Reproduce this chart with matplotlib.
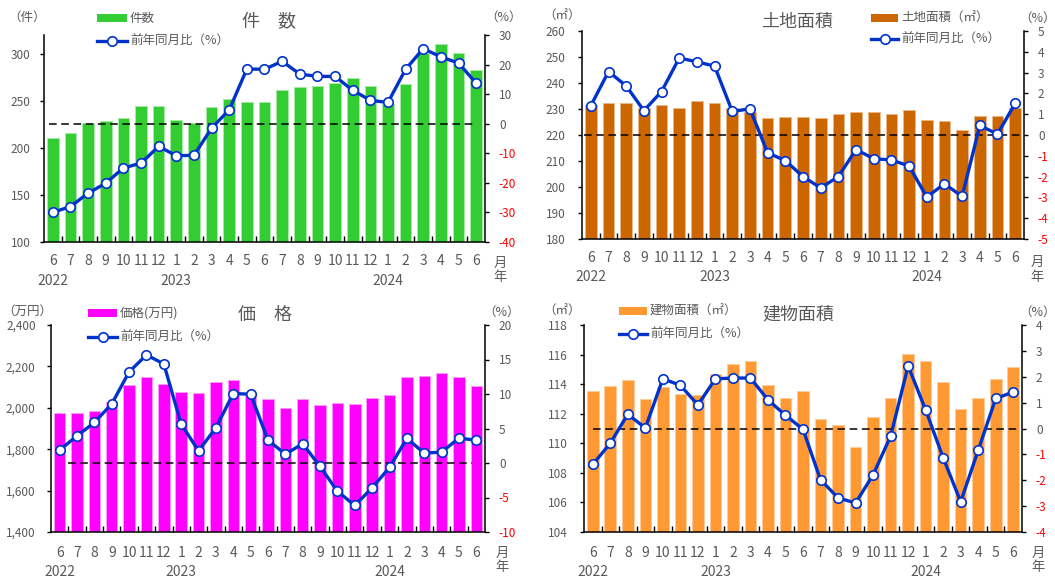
import numpy as np
import matplotlib
matplotlib.use('Agg')
import matplotlib.pyplot as plt
from matplotlib.patches import Rectangle
from matplotlib.lines import Line2D
import matplotlib.transforms as mtrans

plt.rcParams['font.family'] = ['Noto Sans CJK JP', 'DejaVu Sans']

W, H = 1055, 578
GRAY = '#595959'
LINE_C = '#0033CC'

months = ['6', '7', '8', '9', '10', '11', '12', '1', '2', '3', '4', '5', '6',
          '7', '8', '9', '10', '11', '12', '1', '2', '3', '4', '5', '6']
year_idx = [0, 7, 19]
year_lab = ['2022', '2023', '2024']

# 件数
count_vals = [211, 216, 227, 229, 232, 245, 245, 230, 226, 243, 252, 249, 249,
              262, 265, 266, 269, 274, 266, 247, 268, 301, 310, 301, 283]
count_yoy = [-30.0, -28.0, -23.5, -20.1, -15.0, -13.3, -7.7, -10.8, -10.7, -1.5, 4.7, 18.5, 18.4,
             21.1, 16.8, 16.0, 16.0, 11.3, 7.9, 7.2, 18.4, 25.4, 22.6, 20.5, 13.7]
# 土地面積
land_vals = [231.5, 232.4, 232.4, 230.3, 231.7, 230.4, 232.9, 232.4, 230.4, 228.9, 226.5, 227.1, 227.1,
             226.6, 227.9, 228.8, 229.0, 227.9, 229.6, 225.7, 225.2, 222.0, 227.4, 227.4, 230.4]
land_yoy = [1.41, 3.05, 2.36, 1.17, 2.09, 3.70, 3.52, 3.31, 1.13, 1.26, -0.86, -1.23, -2.0,
            -2.54, -2.0, -0.70, -1.14, -1.20, -1.49, -2.98, -2.35, -2.95, 0.46, 0.04, 1.52]
# 価格
price_vals = [1974, 1974, 1984, 2028, 2111, 2148, 2115, 2074, 2070, 2124, 2133, 2060, 2041,
              2000, 2041, 2014, 2025, 2017, 2045, 2062, 2148, 2156, 2170, 2151, 2107]
price_yoy = [1.87, 3.94, 5.87, 8.57, 13.2, 15.67, 14.35, 5.63, 1.77, 5.1, 10.07, 9.97, 3.31,
             1.29, 2.78, -0.5, -4.1, -6.15, -3.6, -0.64, 3.56, 1.43, 1.58, 3.6, 3.31]
# 建物面積
bldg_vals = [113.54, 113.88, 114.29, 112.98, 113.84, 113.34, 113.27, 114.71, 115.39, 115.57, 113.95, 113.03, 113.54,
             111.65, 111.27, 109.74, 111.79, 113.03, 116.06, 115.57, 114.13, 112.35, 113.03, 114.33, 115.14]
bldg_yoy = [-1.39, -0.57, 0.55, 0.02, 1.92, 1.67, 0.91, 1.92, 1.95, 1.95, 1.11, 0.51, -0.03,
            -1.98, -2.68, -2.88, -1.79, -0.30, 2.42, 0.72, -1.13, -2.83, -0.84, 1.16, 1.41]

fig = plt.figure(figsize=(W / 100, H / 100), dpi=100)


def fx(x):
    return x / W


def fy(y):
    return 1 - y / H


def panel(box, vals, yoy, color, edge, ylim, yticks, yfmt, ylim2, yticks2,
          title, title_xy, unit, unit_xy, pct_xy, leg_xy, leg_label, dash_span,
          month_y, year_y, yue_x, yue_y, lpad):
    l, r, t, b = box
    ax = fig.add_axes([fx(l), fy(b), fx(r - l), (b - t) / H])
    x = np.arange(len(vals))
    ax.bar(x, vals, width=0.66, color=color, edgecolor=edge, linewidth=0.7, zorder=2)
    ax.set_xlim(-0.5, len(vals) - 0.5)
    ax.set_ylim(*ylim)
    ax.set_yticks(yticks)
    ax.set_yticklabels([yfmt(v) for v in yticks])
    ax.tick_params(axis='y', direction='out', length=3, width=1, colors='black',
                   labelcolor=GRAY, labelsize=8.5, pad=lpad)
    ax.set_xticks([])
    ax.set_xticks(np.arange(0.5, len(vals) - 0.5, 1), minor=True)
    ax.tick_params(axis='x', which='minor', direction='in', length=4, width=1, color='black')
    for s in ['top', 'right']:
        ax.spines[s].set_visible(False)
    ax.spines['left'].set_linewidth(1.1)
    ax.spines['bottom'].set_linewidth(1.1)

    ax2 = ax.twinx()
    ax2.set_ylim(*ylim2)
    ax2.set_yticks(yticks2)
    ax2.set_yticklabels([f'{v:g}' for v in yticks2])
    ax2.tick_params(axis='y', direction='out', length=3, width=1, colors='black',
                    labelsize=8.5, pad=7)
    for lab, v in zip(ax2.get_yticklabels(), yticks2):
        lab.set_color('#FF0000' if v < 0 else GRAY)
    for s in ['top', 'left', 'bottom']:
        ax2.spines[s].set_visible(False)
    ax2.spines['right'].set_linewidth(1.1)
    ax2.axhline(0, xmin=dash_span[0], xmax=dash_span[1], color='black',
                linestyle=(0, (5, 3)), linewidth=1.1, zorder=3)
    ax2.plot(x, yoy, color=LINE_C, linewidth=2.4, marker='o', markersize=6.8,
             markerfacecolor='white', markeredgecolor=LINE_C, markeredgewidth=1.2, zorder=4)

    tr = mtrans.blended_transform_factory(ax.transData, fig.transFigure)
    for i, m in enumerate(months):
        ax.text(i, fy(month_y), m, transform=tr, ha='center', va='center',
                fontsize=10, color=GRAY)
    for i, yl in zip(year_idx, year_lab):
        ax.text(i, fy(year_y), yl, transform=tr, ha='center', va='center',
                fontsize=10, color=GRAY)
    fig.text(fx(yue_x), fy(yue_y[0]), '月', ha='center', va='center', fontsize=9.5, color=GRAY)
    fig.text(fx(yue_x), fy(yue_y[1]), '年', ha='center', va='center', fontsize=9.5, color=GRAY)

    fig.text(fx(title_xy[0]), fy(title_xy[1]), title, ha='center', va='center',
             fontsize=13, color=GRAY)
    fig.text(fx(unit_xy[0]), fy(unit_xy[1]), unit, ha='center', va='center',
             fontsize=9, color=GRAY)
    fig.text(fx(pct_xy[0]), fy(pct_xy[1]), '（%）', ha='center', va='center',
             fontsize=9, color=GRAY)

    # legend
    lx0, lx1, ly1, ly2 = leg_xy
    fig.add_artist(Rectangle((fx(lx0), fy(ly1 + 4)), fx(lx1 - lx0), 8 / H,
                             transform=fig.transFigure, facecolor=color, edgecolor='none'))
    fig.text(fx(lx1 + 3), fy(ly1), leg_label, ha='left', va='center', fontsize=9, color=GRAY)
    fig.add_artist(Line2D([fx(lx0), fx(lx1)], [fy(ly2), fy(ly2)], transform=fig.transFigure,
                          color=LINE_C, linewidth=2.4))
    fig.add_artist(Line2D([fx((lx0 + lx1) / 2)], [fy(ly2)], transform=fig.transFigure,
                          marker='o', markersize=6.8, markerfacecolor='white',
                          markeredgecolor=LINE_C, markeredgewidth=1.2, linestyle='none'))
    fig.text(fx(lx1 + 3), fy(ly2), '前年同月比（%）', ha='left', va='center', fontsize=9, color=GRAY)
    return ax, ax2


panel((44, 485, 35, 242), count_vals, count_yoy, '#33CC33', '#A6EBA6',
      (100, 320), [100, 150, 200, 250, 300], lambda v: f'{v:d}',
      (-40, 30), [-40, -30, -20, -10, 0, 10, 20, 30],
      '件　数', (269, 22), '（件）', (27, 17), (504, 17), (97, 127, 18, 41), '件数',
      (0.011, 0.973), 261, 281, 500, (263, 278), 6.5)

panel((582, 1024, 31, 239), land_vals, land_yoy, '#CC6600', '#EBB88A',
      (180, 260), list(range(180, 261, 10)), lambda v: f'{v:d}',
      (-5, 5), list(range(-5, 6)),
      '土地面積', (797, 22), '（㎡）', (562, 16), (1038, 18), (871, 898, 18, 39), '土地面積（㎡）',
      (0.005, 0.99), 258, 277, 1037, (262, 277), 9)

panel((51, 485, 325, 532), price_vals, price_yoy, '#FF00FF', '#FF99FF',
      (1400, 2400), list(range(1400, 2401, 200)), lambda v: f'{v:,}',
      (-10, 20), [-10, -5, 0, 5, 10, 15, 20],
      '価　格', (265, 315), '（万円）', (27, 311), (502, 312), (88, 117, 313, 337), '価格(万円)',
      (0.04, 0.97), 553, 572, 502, (553, 568), 8)

panel((584, 1022, 325, 532), bldg_vals, bldg_yoy, '#FF9933', '#FFCC99',
      (104, 118), list(range(104, 119, 2)), lambda v: f'{v:d}',
      (-4, 4), list(range(-4, 5)),
      '建物面積', (798, 314), '（㎡）', (562, 311), (1038, 312), (619, 647, 311, 334), '建物面積（㎡）',
      (0.02, 0.99), 553, 572, 1038, (553, 568), 9)

fig.savefig('out.png', dpi=100)
